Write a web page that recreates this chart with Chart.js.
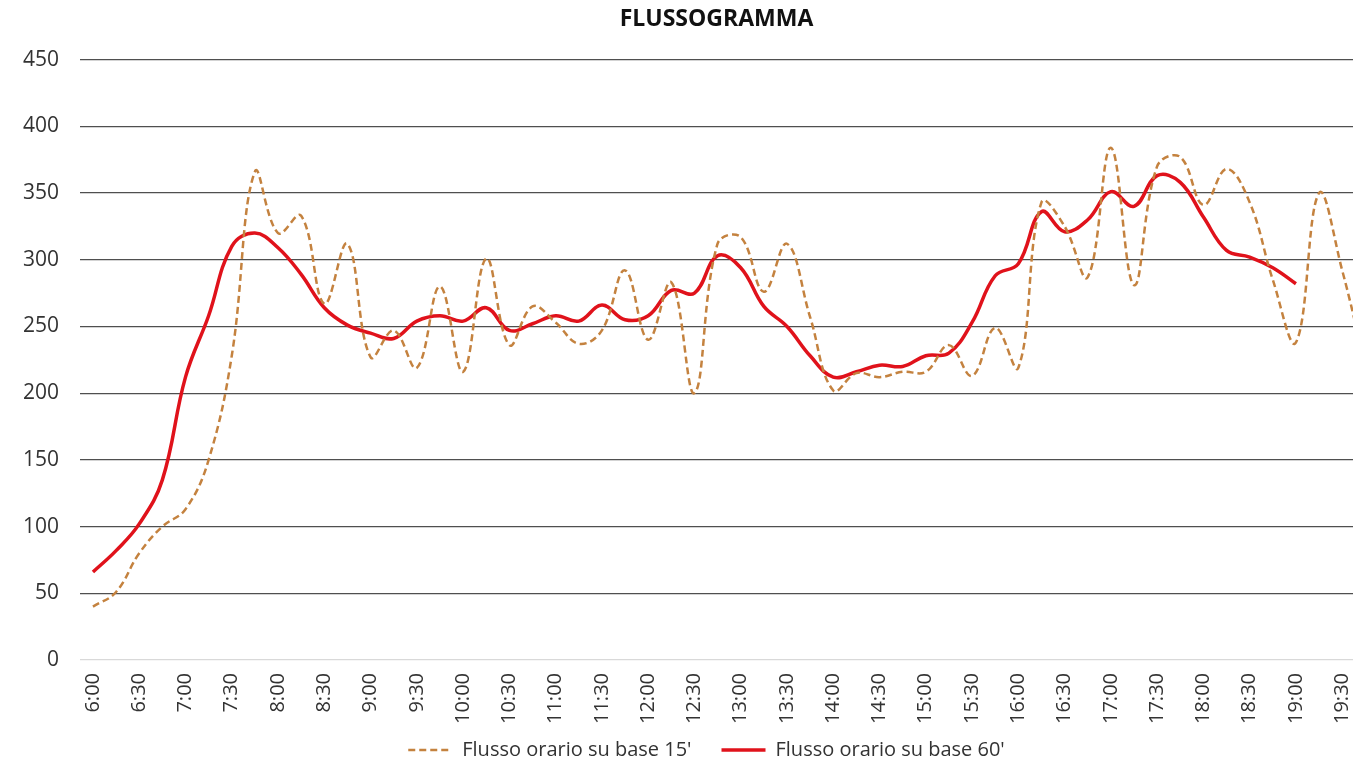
<!DOCTYPE html>
<html>
<head>
<meta charset="utf-8">
<title>Flussogramma</title>
<script src="https://cdn.jsdelivr.net/npm/chart.js@4/dist/chart.umd.min.js"></script>
<style>
    html, body { margin: 0; padding: 0; background: #fff; overflow: hidden; }
    #wrap { width: 1353px; height: 771px; }
</style>
</head>
<body>
<div id="wrap"><canvas id="flussoChart"></canvas></div>
<script>
// orari (intervalli di 15 minuti)
var orari = ['6:00', '6:15', '6:30', '6:45', '7:00', '7:15', '7:30', '7:45',
    '8:00', '8:15', '8:30', '8:45', '9:00', '9:15', '9:30', '9:45',
    '10:00', '10:15', '10:30', '10:45', '11:00', '11:15', '11:30', '11:45',
    '12:00', '12:15', '12:30', '12:45', '13:00', '13:15', '13:30', '13:45',
    '14:00', '14:15', '14:30', '14:45', '15:00', '15:15', '15:30', '15:45',
    '16:00', '16:15', '16:30', '16:45', '17:00', '17:15', '17:30', '17:45',
    '18:00', '18:15', '18:30', '18:45', '19:00', '19:15', '19:30', '19:45'];

// etichette dell'asse x (ogni 30 minuti)
var tickOrari = ['6:00', '6:30', '7:00', '7:30', '8:00', '8:30', '9:00', '9:30',
    '10:00', '10:30', '11:00', '11:30', '12:00', '12:30', '13:00', '13:30',
    '14:00', '14:30', '15:00', '15:30', '16:00', '16:30', '17:00', '17:30',
    '18:00', '18:30', '19:00', '19:30'];

// flusso orario su base 15'
var flusso15 = [40, 51, 80, 100, 113, 150, 228, 366,
    320, 333, 267, 312, 227, 247, 219, 280,
    216, 301, 236, 265, 253, 237, 247, 292,
    240, 283, 200, 312, 317, 276, 312, 257,
    202, 215, 212, 216, 216, 236, 213, 249,
    219, 343, 325, 287, 384, 281, 370, 377,
    341, 368, 343, 285, 238, 350, 292, 220];

// flusso orario su base 60'
var flusso60 = [66, 82, 102, 135, 212, 258, 310, 320,
    309, 289, 264, 251, 245, 241, 254, 258,
    254, 264, 247, 252, 258, 254, 266, 255,
    258, 277, 275, 303, 294, 265, 250, 228,
    212, 216, 221, 220, 228, 230, 253, 288,
    297, 336, 321, 330, 351, 340, 363, 358,
    332, 307, 302, 294, 282, null, null, null];

var etichette = ["Flusso orario su base 15'", "Flusso orario su base 60'"];
var yTicks = [0, 50, 100, 150, 200, 250, 300, 350, 400, 450];

function toMinuti(s) {
    var p = s.split(':');
    return parseInt(p[0], 10) * 60 + parseInt(p[1], 10);
}

function toOrario(m) {
    var h = Math.floor(m / 60);
    var mm = m % 60;
    return h + ':' + (mm < 10 ? '0' + mm : mm);
}

function punti(valori) {
    var out = [];
    for (var i = 0; i < orari.length; i++) {
        out.push({x: toMinuti(orari[i]), y: valori[i]});
    }
    return out;
}

var font = '"Open Sans", sans-serif';

new Chart(document.getElementById('flussoChart'), {
    type: 'line',
    data: {
        datasets: [{
            label: etichette[0],
            data: punti(flusso15),
            borderColor: '#c4823f',
            backgroundColor: '#c4823f',
            borderWidth: 2.5,
            borderDash: [7, 4],
            tension: 0.4,
            pointRadius: 0,
            fill: false
        }, {
            label: etichette[1],
            data: punti(flusso60),
            borderColor: '#e0121b',
            backgroundColor: '#e0121b',
            borderWidth: 3.5,
            tension: 0.4,
            pointRadius: 0,
            spanGaps: false,
            fill: false
        }]
    },
    options: {
        responsive: true,
        maintainAspectRatio: false,
        animation: false,
        layout: {
            padding: {left: 0, right: 0, top: 0, bottom: 1}
        },
        plugins: {
            title: {
                display: true,
                fullSize: false,
                text: 'FLUSSOGRAMMA',
                color: '#111',
                font: {family: font, size: 23, weight: 'bold'},
                padding: {top: 6, bottom: 26}
            },
            legend: {
                position: 'bottom',
                fullSize: false,
                labels: {
                    usePointStyle: true,
                    pointStyle: 'line',
                    pointStyleWidth: 44,
                    color: '#333',
                    font: {family: font, size: 20},
                    padding: 10,
                    generateLabels: function (chart) {
                        var items = Chart.defaults.plugins.legend.labels.generateLabels(chart);
                        items.forEach(function (item, i) {
                            var ds = chart.data.datasets[i];
                            item.lineDash = ds.borderDash || [];
                            item.lineWidth = ds.borderWidth;
                            item.strokeStyle = ds.borderColor;
                        });
                        // spaziatura delle voci come nell'originale
                        items[0].text = items[0].text + '\u2003';
                        items[1].text = items[1].text + '\u2003';
                        return items;
                    }
                }
            },
            tooltip: {enabled: false}
        },
        scales: {
            x: {
                type: 'linear',
                min: 351.6,
                max: 1177,
                grid: {display: false},
                border: {display: false},
                ticks: {
                    autoSkip: false,
                    minRotation: 90,
                    maxRotation: 90,
                    padding: 5,
                    color: '#333',
                    font: {family: font, size: 20},
                    callback: function (v) { return toOrario(v); }
                },
                afterBuildTicks: function (scale) {
                    scale.ticks = tickOrari.map(function (t) { return {value: toMinuti(t)}; });
                },
                afterFit: function (scale) {
                    scale.height = 70;
                    scale.paddingLeft = 0;
                    scale.paddingRight = 0;
                }
            },
            y: {
                min: 0,
                max: 450,
                border: {display: false},
                grid: {
                    drawTicks: false,
                    lineWidth: 1.3,
                    color: function (ctx) {
                        return ctx.tick && ctx.tick.value === 0 ? '#d9d9d9' : '#4f4f4f';
                    }
                },
                ticks: {
                    padding: 21,
                    color: '#333',
                    font: {family: font, size: 21}
                },
                afterBuildTicks: function (scale) {
                    scale.ticks = yTicks.map(function (v) { return {value: v}; });
                },
                afterFit: function (scale) { scale.width = 80; }
            }
        }
    }
});
</script>
</body>
</html>
